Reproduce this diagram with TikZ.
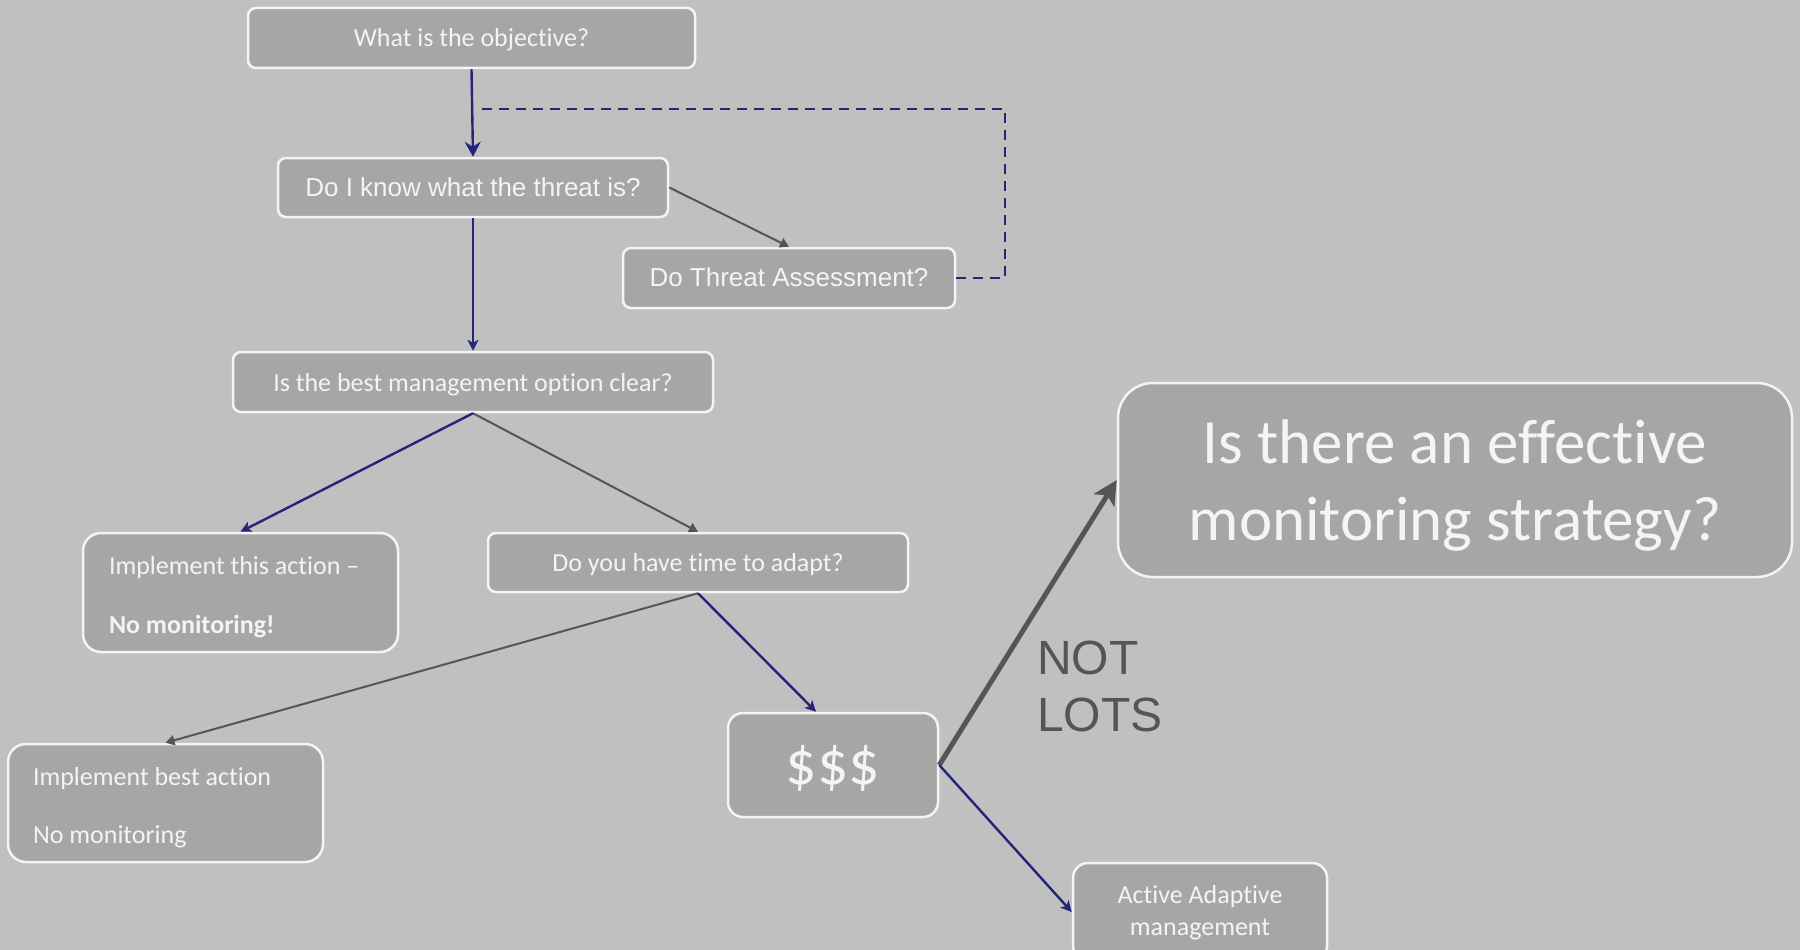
\documentclass[tikz,border=0pt]{standalone}
\usepackage{fontspec}
\setmainfont{Carlito}[Ligatures={NoCommon}]
\newfontfamily\arialfont{Liberation Sans}
\usetikzlibrary{arrows.meta}
\definecolor{bg}{HTML}{C0C0C0}
\definecolor{boxfill}{HTML}{A6A6A6}
\definecolor{boxline}{HTML}{F4F4F4}
\definecolor{navy}{HTML}{24247A}
\definecolor{darkline}{HTML}{555555}
\begin{document}
\begin{tikzpicture}[x=1pt,y=-1pt,
  box/.style={draw=boxline, line width=2.5pt, fill=boxfill,
    rounded corners=8pt, inner sep=0pt},
  boxtext/.style={text=boxline, inner sep=0pt, font=\fontsize{26}{31}\selectfont},
  bluearrow/.style={draw=navy, line width=2.4pt, -{Stealth[length=11pt,width=11pt,inset=3pt]}},
  topdown/.style={bluearrow, -{Stealth[length=15pt,width=16pt,inset=5pt]}},
  grayarrow/.style={draw=darkline, line width=2pt, -{Triangle[length=9pt,width=10pt]}},
  bigarrow/.style={draw=darkline, line width=5pt, -{Stealth[length=24pt,width=24pt,inset=6pt]}},
  loopline/.style={draw=navy, line width=2.8pt, dash pattern=on 10pt off 7pt}
]
\useasboundingbox (0,0) rectangle (1800,950);
\clip (0,0) rectangle (1800,950);
\fill[bg] (0,0) rectangle (1800,950);

% box outlines
\node[box, minimum width=447pt, minimum height=60pt] (b1) at (471.5,38) {};
\node[box, minimum width=390pt, minimum height=59pt] (b2) at (473,187.5) {};
\node[box, minimum width=332pt, minimum height=60pt] (b3) at (789,278) {};
\node[box, minimum width=480pt, minimum height=60pt] (b4) at (473,382) {};
\node[box, minimum width=315pt, minimum height=119pt, rounded corners=18pt] (b5) at (240.5,592.5) {};
\node[box, minimum width=420pt, minimum height=59pt] (b6) at (698,562.5) {};
\node[box, minimum width=315pt, minimum height=118pt, rounded corners=18pt] (b7) at (165.5,803) {};
\node[box, minimum width=210pt, minimum height=104pt, rounded corners=15pt] (b8) at (833,765) {};
\node[box, minimum width=674pt, minimum height=194pt, rounded corners=35pt] (b9) at (1455,480) {};
\node[box, minimum width=254pt, minimum height=98pt, rounded corners=15pt] (b10) at (1200,912) {};

% box texts
\node[boxtext] (t1) at ([yshift=-1.5pt]b1.center) {What is the objective?};
\node[boxtext, font=\arialfont\fontsize{26}{31}\selectfont] (t2) at (b2.center) {Do I know what the threat is?};
\node[boxtext, font=\arialfont\fontsize{26}{31}\selectfont] (t3) at ([yshift=0.5pt]b3.center) {Do Threat Assessment?};
\node[boxtext] (t4) at ([yshift=-2.5pt]b4.center) {Is the best management option clear?};
\node[boxtext, text width=263pt, align=flush left, font=\fontsize{26}{59}\selectfont]
  (t5) at ([yshift=-5pt]b5.center) {Implement this action --\\\textbf{No monitoring!}};
\node[boxtext] (t6) at ([yshift=-2.5pt]b6.center) {Do you have time to adapt?};
\node[boxtext, text width=265pt, align=flush left, font=\fontsize{26}{58}\selectfont]
  (t7) at ([yshift=-5pt]b7.center) {Implement best action\\No monitoring};
\node[boxtext, font=\fontsize{62}{70}\selectfont] (t8) at ([yshift=-3.5pt]b8.center) {\$\$\$};
\node[boxtext, align=center, font=\fontsize{63}{77}\selectfont] (t9) at ([yshift=-6pt]b9.center)
  {Is there an effective\\monitoring strategy?};
\node[boxtext, align=center, font=\fontsize{26}{32}\selectfont] (t10) at ([yshift=-1pt]b10.center)
  {Active Adaptive\\management};

% label beside the thick arrow
\node[anchor=base west, align=left, text=darkline, inner sep=0pt,
  font=\arialfont\fontsize{48}{57}\selectfont] (notlots) at (1037,731) {NOT\\LOTS};

% connectors
\coordinate (loopR) at (1005,109);
\coordinate (loopL) at (479,109);
\draw[loopline] (b3.east) -| (loopR) -- (loopL);
\draw[topdown] (b1.south) -- (b2.north);
\draw[grayarrow] (b2.east) -- (b3.north);
\draw[bluearrow] (b2.south) -- (b4.north);
\draw[bluearrow] (b4.south) -- (b5.north);
\draw[grayarrow] (b4.south) -- (b6.north);
\draw[grayarrow] (b6.south) -- (b7.north);
\draw[bluearrow] (b6.south) -- ([xshift=-17pt]b8.north);
\draw[bigarrow] (b8.east) -- (b9.west);
\draw[bluearrow] (b8.east) -- (b10.west);
\end{tikzpicture}
\end{document}
